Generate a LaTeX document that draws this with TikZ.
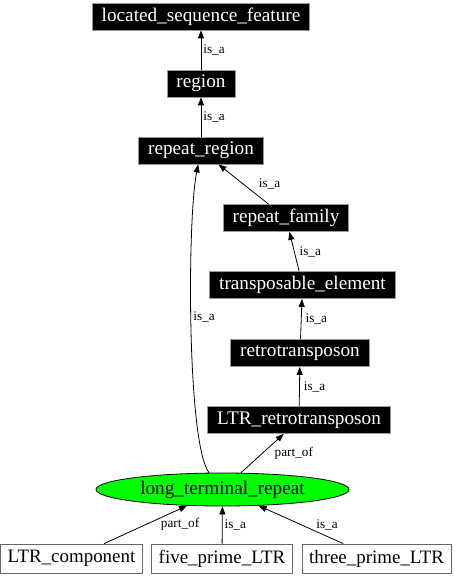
\documentclass[tikz,border=0pt]{standalone}
\usepackage{fontspec}
\setmainfont{Liberation Serif}
\usetikzlibrary{arrows.meta,shapes.geometric}

\begin{document}
\begin{tikzpicture}[->,>={Triangle[length=8bp,width=6bp]},x=1bp,y=-1bp,
					node distance=67bp,line width=0.8bp,
					type node/.style={rectangle,fill=black,draw=black!40,text=white,minimum height=27bp,inner xsep=9.5bp,inner ysep=0pt,font=\fontsize{19.3}{22}\selectfont},
					part node/.style={rectangle,fill=white,draw=black!60,minimum height=29bp,inner xsep=7bp,inner ysep=0pt,font=\fontsize{19}{22}\selectfont},
					focus node/.style={ellipse,fill=green,draw=black,minimum width=253bp,minimum height=33bp,inner sep=0pt,font=\fontsize{19.3}{22}\selectfont},
					rel label/.style={font=\fontsize{13.3}{15}\selectfont,right,inner sep=2bp}];
					
					\useasboundingbox (0,0) rectangle (455,576);
					
					\node[type node] (1) at (201,16.5) {located\_sequence\_feature};
					\node[type node] (2) [below of=1] {region};
					\node[type node] (3) [below of=2] {repeat\_region};
					\node[type node] (4) at (286,218) {repeat\_family};
					\node[type node] (5) at (302.5,285) {transposable\_element};
					\node[type node] (6) at (300,353) {retrotransposon};
					\node[type node] (7) at (299,420) {LTR\_retrotransposon};
					\node[focus node] (8) at (222.5,489.5) {long\_terminal\_repeat};
					\node[part node] (9) at (71.5,558.5) {LTR\_component};
					\node[part node] (10) at (222,558.5) {five\_prime\_LTR};
					\node[part node] (11) at (376.5,558.5) {three\_prime\_LTR};
					
					\path[every node/.style={rel label}]
					(2) edge node {is\_a} (1)
					(3) edge node {is\_a} (2)
					(4) edge node [xshift=13bp] {is\_a} (3)
					(5) edge node [xshift=3bp] {is\_a} (4)
					(6) edge node [xshift=2bp] {is\_a} (5)
					(7) edge node [xshift=2bp] {is\_a} (6)
					(8) edge node [xshift=10bp] {part\_of} (7)
					(9) edge node [xshift=13bp] {part\_of} (8)
					(10) edge node {is\_a} (8)
					(11) edge node [xshift=13bp] {is\_a} (8);
					
					\draw (8) .. controls (187,445) and (187,220) .. node [rel label,pos=0.53] {is\_a} (3);
					
					\end{tikzpicture}
\end{document}
